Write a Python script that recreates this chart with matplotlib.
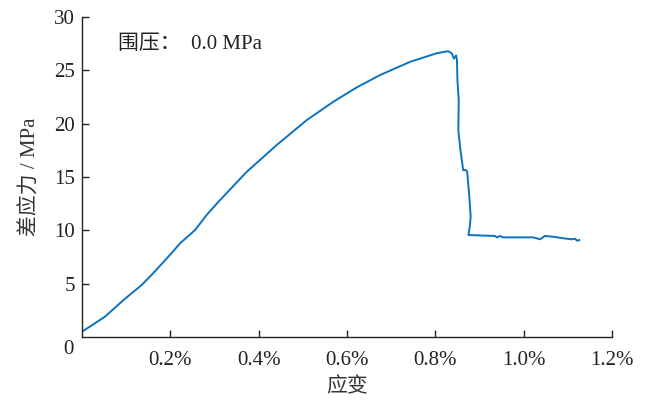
import matplotlib
matplotlib.use("Agg")
import matplotlib.pyplot as plt
from matplotlib.ticker import FuncFormatter

# strain (%) and deviatoric stress (MPa)
strain = [0.0, 0.052, 0.094, 0.135, 0.161, 0.199, 0.222, 0.256, 0.282, 0.309,
          0.373, 0.441, 0.509, 0.569, 0.622, 0.675, 0.743, 0.803, 0.829, 0.837,
          0.842, 0.847, 0.849, 0.850, 0.853, 0.852, 0.856, 0.863, 0.869, 0.872,
          0.877, 0.880, 0.878, 0.875, 0.935, 0.940, 0.946, 0.954, 1.022, 1.037,
          1.048, 1.067, 1.090, 1.109, 1.116, 1.121, 1.126]
stress = [0.5, 1.9, 3.47, 4.87, 5.97, 7.69, 8.78, 10.03, 11.43, 12.68,
          15.49, 18.0, 20.34, 22.05, 23.4, 24.56, 25.8, 26.6, 26.8, 26.6,
          26.1, 26.4, 25.96, 24.1, 22.2, 19.4, 17.8, 15.65, 15.65, 15.5,
          13.15, 11.27, 10.34, 9.56, 9.47, 9.34, 9.47, 9.34, 9.34, 9.16,
          9.47, 9.4, 9.25, 9.16, 9.22, 9.03, 9.09]

xticks = [0.2, 0.4, 0.6, 0.8, 1.0, 1.2]
yticks = [5, 10, 15, 20, 25, 30]

fam = ['Liberation Serif', 'Noto Sans CJK SC']
plt.rcParams['font.family'] = fam
plt.rcParams['font.size'] = 15

fig = plt.figure(figsize=(6.47, 4.03), dpi=100)
ax = fig.add_axes([82/647, 66/403, 530/647, 320/403])
ax.plot(strain, stress, color='#0A72BE', lw=1.4)

ax.set_xlim(0, 1.2)
ax.set_ylim(0, 30)
ax.set_xticks(xticks)
ax.set_yticks(yticks)
ax.xaxis.set_major_formatter(FuncFormatter(lambda v, p: f"{v:.1f}%"))
ax.yaxis.set_major_formatter(FuncFormatter(lambda v, p: f"{v:.0f}"))
for s in ['top', 'right']:
    ax.spines[s].set_visible(False)
for s in ['left', 'bottom']:
    ax.spines[s].set_linewidth(1.0)
    ax.spines[s].set_color('#222222')
ax.tick_params(axis='x', direction='in', length=5, width=1.0, pad=10, colors='#222222', labelcolor='#222222')
ax.tick_params(axis='y', direction='in', length=5, width=1.0, pad=5, colors='#222222', labelcolor='#222222')

fig.text(68/647, 1 - 350/403, '0', ha='center', va='center', color='#222222', fontsize=15)

ax.set_xlabel('应变', fontsize=15, color='#333333', labelpad=6)
ax.set_ylabel('差应力 / MPa', fontsize=15, color='#333333', labelpad=10)
ax.text(0.068, 0.915, '围压：  0.0 MPa', transform=ax.transAxes, ha='left', va='center',
        fontsize=15, color='#222222')

fig.savefig('out.png', dpi=100)
